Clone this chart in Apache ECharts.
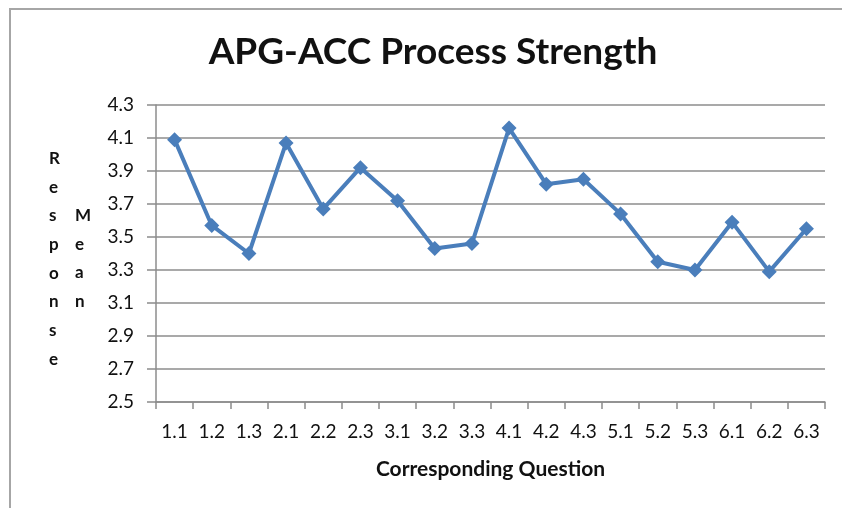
<!DOCTYPE html>
<html>
<head>
<meta charset="utf-8">
<script src="https://cdn.jsdelivr.net/npm/echarts@6/dist/echarts.min.js"></script>
<style>
  html, body { margin: 0; padding: 0; background: #fff; }
  #chart { width: 842px; height: 508px; }
</style>
</head>
<body>
<div id="chart"></div>
<script>
  // categories = question numbers, values = mean response
  var questions = ['1.1', '1.2', '1.3', '2.1', '2.2', '2.3', '3.1', '3.2', '3.3',
                   '4.1', '4.2', '4.3', '5.1', '5.2', '5.3', '6.1', '6.2', '6.3']
  var meanValues = [4.09, 3.57, 3.40, 4.07, 3.67, 3.92, 3.72, 3.43, 3.46,
                    4.16, 3.82, 3.85, 3.64, 3.35, 3.30, 3.59, 3.29, 3.55]

  var font = 'Lato, "Open Sans", sans-serif'
  var chart = echarts.init(document.getElementById('chart'))

  chart.setOption({
    backgroundColor: '#fff',
    animation: false,
    title: {
      text: 'APG-ACC Process Strength',
      left: 428,
      top: 29,
      textAlign: 'center',
      textStyle: {
        fontFamily: font,
        fontSize: 37,
        fontWeight: 'bold',
        color: '#111'
      }
    },
    graphic: [
      {
        // chart frame of the spreadsheet object
        type: 'polyline',
        shape: { points: [[10, 520], [10, 9], [850, 9]] },
        style: { stroke: '#a6a6a6', lineWidth: 2, fill: null }
      },
      {
        type: 'text',
        left: 49,
        top: 144,
        style: {
          text: 'R\ne\ns\np\no\nn\ns\ne',
          fontFamily: font,
          fontSize: 17,
          fontWeight: 'bold',
          lineHeight: 28.7,
          fill: '#111',
          align: 'center'
        }
      },
      {
        type: 'text',
        left: 75,
        top: 201,
        style: {
          text: 'M\ne\na\nn',
          fontFamily: font,
          fontSize: 17,
          fontWeight: 'bold',
          lineHeight: 28.7,
          fill: '#111',
          align: 'center'
        }
      }
    ],
    grid: {
      left: 156,
      right: 17,
      top: 105,
      bottom: 106
    },
    xAxis: {
      type: 'category',
      data: questions,
      boundaryGap: true,
      name: 'Corresponding Question',
      nameLocation: 'middle',
      nameGap: 57,
      nameTextStyle: {
        fontFamily: font,
        fontSize: 21,
        fontWeight: 'bold',
        color: '#111'
      },
      axisLine: { lineStyle: { color: '#8c8c8c', width: 1.5 } },
      axisTick: { show: true, length: 7, lineStyle: { color: '#8c8c8c', width: 1.5 } },
      axisLabel: {
        fontFamily: font,
        fontSize: 19,
        color: '#111',
        margin: 20,
        interval: 0
      }
    },
    yAxis: {
      type: 'value',
      min: 2.5,
      max: 4.3,
      interval: 0.2,
      axisLine: { show: true, lineStyle: { color: '#8c8c8c', width: 1.5 } },
      axisTick: { show: true, length: 9, lineStyle: { color: '#8c8c8c', width: 1.5 } },
      splitLine: { lineStyle: { color: '#8c8c8c', width: 1.5 } },
      axisLabel: {
        fontFamily: font,
        fontSize: 19,
        color: '#111',
        margin: 22,
        formatter: function (v) { return v.toFixed(1) }
      }
    },
    series: [
      {
        type: 'line',
        data: meanValues,
        symbol: 'diamond',
        symbolSize: 15,
        lineStyle: { color: '#4a7ebb', width: 4 },
        itemStyle: { color: '#4a7ebb' }
      }
    ]
  })
</script>
</body>
</html>
